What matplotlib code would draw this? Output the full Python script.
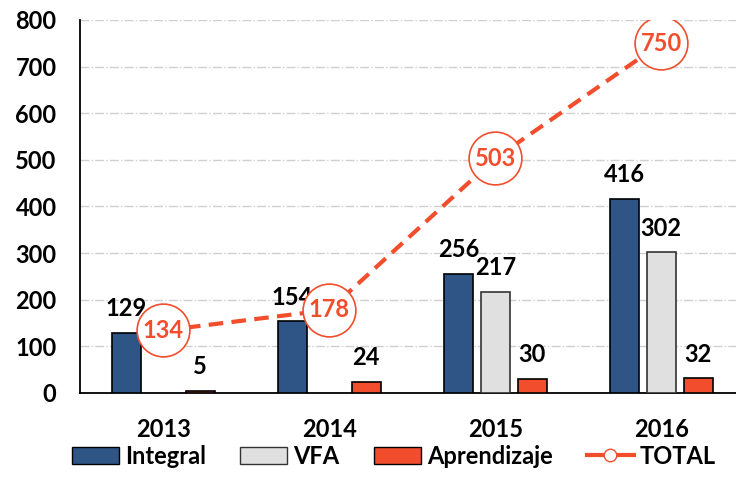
import numpy as np
import matplotlib
matplotlib.use('Agg')
import matplotlib.pyplot as plt
from matplotlib.lines import Line2D
from matplotlib.patches import Patch

plt.rcParams['font.family'] = ['Lato', 'DejaVu Sans']
plt.rcParams['font.weight'] = 'bold'

# datos
years = ['2013', '2014', '2015', '2016']
integral = [129, 154, 256, 416]
vfa = [0, 0, 217, 302]
aprendizaje = [5, 24, 30, 32]
total = [134, 178, 503, 750]

c_int = '#2F5587'
c_vfa = '#E0E0E0'
c_apr = '#F24E2E'
c_tot = '#F24E2E'
fs = 17

fig = plt.figure(figsize=(7.36, 4.98), dpi=100)
ax = fig.add_axes([0.109, 0.211, 0.891, 0.749])

x = np.arange(len(years))
w = 0.175
off = 0.222

ax.bar(x - off, integral, w, color=c_int, edgecolor='black', linewidth=1.2, zorder=3)
vfa_idx = [i for i, v in enumerate(vfa) if v > 0]
ax.bar(x[vfa_idx], [vfa[i] for i in vfa_idx], w, color=c_vfa, edgecolor='#333333', linewidth=1.2, zorder=3)
ax.bar(x + off, aprendizaje, w, color=c_apr, edgecolor='black', linewidth=1.2, zorder=3)

# etiquetas de barras
for i in range(len(years)):
    ax.annotate(str(integral[i]), (x[i] - off, integral[i]), xytext=(0, 9), textcoords='offset points',
                ha='center', va='bottom', fontsize=fs, fontweight='bold', zorder=5)
    if vfa[i] > 0:
        ax.annotate(str(vfa[i]), (x[i], vfa[i]), xytext=(0, 9), textcoords='offset points',
                    ha='center', va='bottom', fontsize=fs, fontweight='bold', zorder=5)
    ax.annotate(str(aprendizaje[i]), (x[i] + off, aprendizaje[i]), xytext=(0, 9), textcoords='offset points',
                ha='center', va='bottom', fontsize=fs, fontweight='bold', zorder=5)

# línea total
ax.plot(x, total, color=c_tot, linestyle=(0, (3.5, 2)), linewidth=3, zorder=4)
ax.plot(x, total, linestyle='none', marker='o', markersize=38, markerfacecolor='white',
        markeredgecolor=c_tot, markeredgewidth=1.2, zorder=6)
for i in range(len(years)):
    ax.text(x[i], total[i], str(total[i]), color=c_tot, ha='center', va='center',
            fontsize=fs, fontweight='bold', zorder=7)

ax.set_xlim(-0.5, 3.45)
ax.set_ylim(0, 800)
ax.set_yticks(range(0, 801, 100))
ax.set_xticks(x)
ax.set_xticklabels(years)
ax.tick_params(axis='both', length=0, labelsize=fs)
ax.tick_params(axis='x', pad=18)
ax.tick_params(axis='y', pad=17)
for lab in ax.get_xticklabels() + ax.get_yticklabels():
    lab.set_fontweight('bold')

ax.grid(axis='y', color='#D0D0D0', linestyle='-.', linewidth=1, zorder=0)
ax.spines['top'].set_visible(False)
ax.spines['right'].set_visible(False)
ax.spines['left'].set_linewidth(1.3)
ax.spines['bottom'].set_linewidth(1.3)

handles = [
    Patch(facecolor=c_int, edgecolor='black', label='Integral'),
    Patch(facecolor=c_vfa, edgecolor='#333333', label='VFA'),
    Patch(facecolor=c_apr, edgecolor='black', label='Aprendizaje'),
    Line2D([0], [0], color=c_tot, linewidth=3, marker='o', markersize=9,
           markerfacecolor='white', markeredgecolor=c_tot, label='TOTAL'),
]
fig.legend(handles=handles, loc='center', bbox_to_anchor=(0.535, 0.084), ncol=4, frameon=False,
           prop={'size': fs, 'weight': 'bold'}, handlelength=2.0, handleheight=0.7,
           handletextpad=0.25, columnspacing=1.45)

fig.savefig('out.png', dpi=100)
